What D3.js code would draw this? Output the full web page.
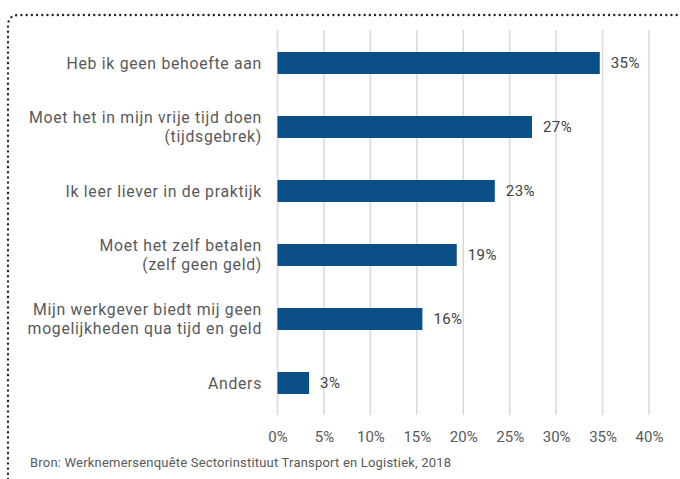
<!DOCTYPE html>
<html><head><meta charset="utf-8">
<script src="https://cdn.jsdelivr.net/npm/d3@7"></script>
<style>body{margin:0;background:#fff;} svg{display:block;font-family:Roboto,"Open Sans",sans-serif;}</style>
</head><body>
<script>
const categories = [
  ["Heb ik geen behoefte aan"],
  ["Moet het in mijn vrije tijd doen", "(tijdsgebrek)"],
  ["Ik leer liever in de praktijk"],
  ["Moet het zelf betalen", "(zelf geen geld)"],
  ["Mijn werkgever biedt mij geen", "mogelijkheden qua tijd en geld"],
  ["Anders"]
];
const values = [34.7, 27.4, 23.4, 19.3, 15.6, 3.4];
const valueLabels = ["35%", "27%", "23%", "19%", "16%", "3%"];
const xTicks = [0, 5, 10, 15, 20, 25, 30, 35, 40];
const source = "Bron: Werknemersenquête Sectorinstituut Transport en Logistiek, 2018";

const W = 680, H = 479;
const svg = d3.select("body").append("svg").attr("width", W).attr("height", H);

// dotted border (top and left with rounded corner)
svg.append("path")
  .attr("d", "M8,479 L8,26 Q8,15 19,15 L680,15")
  .attr("fill", "none").attr("stroke", "#222").attr("stroke-width", 2.4)
  .attr("stroke-linecap", "round").attr("stroke-dasharray", "0 5.2");

const x = d3.scaleLinear().domain([0, 40]).range([277.5, 649]);
const idx = d3.range(categories.length);
const y = d3.scaleBand().domain(idx).range([31, 415]).paddingInner(0.656).paddingOuter(0.328);

// gridlines
svg.append("g").selectAll("line").data(xTicks).join("line")
  .attr("x1", d => x(d)).attr("x2", d => x(d))
  .attr("y1", 30).attr("y2", 415)
  .attr("stroke", "#d9d9d9").attr("stroke-width", 1.5);

// bars
svg.append("g").selectAll("rect").data(values).join("rect")
  .attr("x", x(0)).attr("y", (d, i) => y(i))
  .attr("width", d => x(d) - x(0)).attr("height", y.bandwidth())
  .attr("fill", "#0a4f88");

// value labels
svg.append("g").selectAll("text").data(values).join("text")
  .attr("x", d => x(d) + 11).attr("y", (d, i) => y(i) + y.bandwidth() / 2)
  .attr("dy", "0.35em").attr("font-size", 15).attr("letter-spacing", 0.4).attr("fill", "#404040")
  .text((d, i) => valueLabels[i]);

// category labels, one text per line
const lines = [];
categories.forEach((c, i) => c.forEach((t, j) => lines.push({i, j, n: c.length, t})));
svg.append("g").selectAll("text").data(lines).join("text")
  .attr("text-anchor", "end").attr("font-size", 15.8).attr("letter-spacing", 0.7).attr("fill", "#595959")
  .attr("x", 262)
  .attr("y", d => y(d.i) + y.bandwidth() / 2 + (d.j - (d.n - 1) / 2) * 19)
  .attr("dy", "0.35em")
  .text(d => d.t);

// x axis
const xAxis = d3.axisBottom(x).tickValues(xTicks).tickFormat(d => d + "%").tickSize(0).tickPadding(0);
const ax = svg.append("g").attr("transform", "translate(0,431)").call(xAxis);
ax.select(".domain").remove();
ax.selectAll("text").attr("font-size", 15).attr("fill", "#595959").attr("font-family", "Roboto,'Open Sans',sans-serif");

// source
svg.append("text").attr("x", 30).attr("y", 467).attr("font-size", 13).attr("letter-spacing", 0.2).attr("fill", "#595959").text(source);
</script>
</body></html>
